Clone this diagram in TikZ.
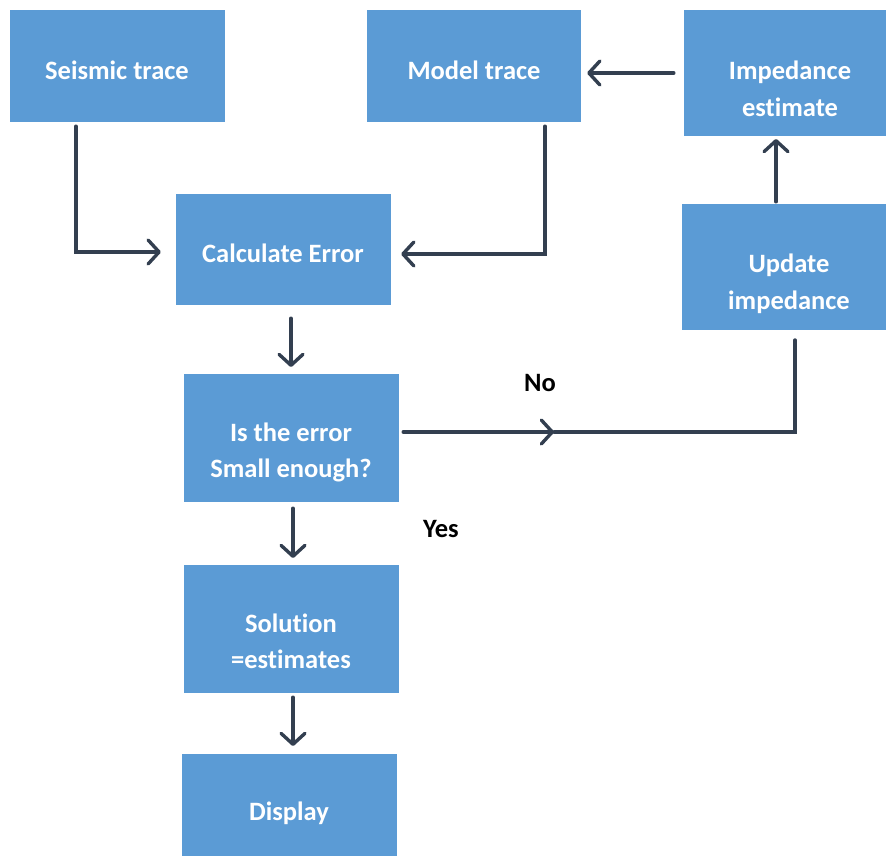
\documentclass[tikz,border=0pt]{standalone}
\usepackage{fontspec}
\setmainfont{Carlito}[Ligatures=NoCommon]
\usetikzlibrary{arrows.meta}
\definecolor{boxblue}{HTML}{5B9BD5}
\definecolor{linedark}{HTML}{333F50}
\tikzset{
  box/.style={fill=boxblue, draw=none, inner sep=0pt},
  btext/.style={text=white, font=\bfseries\fontsize{26.5}{30}\selectfont, inner sep=0pt, anchor=base},
  conn/.style={draw=linedark, line width=3.4pt, line cap=round, line join=miter, -{Straight Barb[length=11pt, width=24pt, line width=3.4pt, round]}},
  lbl/.style={font=\bfseries\fontsize{26.5}{30}\selectfont, text=black, inner sep=0pt, anchor=base}
}
\begin{document}
\begin{tikzpicture}[x=1pt,y=-1pt]
\useasboundingbox (0,0) rectangle (886,856);
\node[box, minimum width=215pt, minimum height=112pt] (seis) at (117.5,66) {};
\node[box, minimum width=214pt, minimum height=112pt] (model) at (474,66) {};
\node[box, minimum width=202pt, minimum height=126pt] (imp) at (785,73) {};
\node[box, minimum width=215pt, minimum height=111pt] (calc) at (283.5,249.5) {};
\node[box, minimum width=204pt, minimum height=126pt] (upd) at (784,267) {};
\node[box, minimum width=215pt, minimum height=128pt] (iserr) at (291.5,438) {};
\node[box, minimum width=215pt, minimum height=128pt] (sol) at (291.5,629) {};
\node[box, minimum width=215pt, minimum height=102pt] (disp) at (289.5,805) {};
% texts
\node[btext] (seis-t) at (117,79.5) {Seismic trace};
\node[btext] (model-t) at (474,79.5) {Model trace};
\node[btext] (imp-t1) at (790,80) {Impedance};
\node[btext] (imp-t2) at (790,117) {estimate};
\node[btext] (calc-t) at (283,262) {Calculate Error};
\node[btext] (upd-t1) at (789,272.5) {Update};
\node[btext] (upd-t2) at (789,309.5) {impedance};
\node[btext] (iserr-t1) at (291,441.5) {Is the error};
\node[btext] (iserr-t2) at (291,477.5) {Small enough?};
\node[btext] (sol-t1) at (291,632.5) {Solution};
\node[btext] (sol-t2) at (291,668.5) {=estimates};
\node[btext] (disp-t) at (289,820) {Display};
\node[lbl] (no) at (540,391) {No};
\node[lbl] (yes) at (441,537) {Yes};
% connectors
\coordinate (s1) at ([xshift=-41.5pt, yshift=-4pt]seis.south);
\coordinate (s2) at (s1 |- 0,252);
\coordinate (s3) at ([xshift=-15pt]calc.west |- s2);
\draw[conn] (s1) -- (s2) -- (s3);
\coordinate (m1) at ([xshift=71pt, yshift=-4pt]model.south);
\coordinate (m2) at (m1 |- 0,254);
\coordinate (m3) at ([xshift=10pt]calc.east |- m2);
\draw[conn] (m1) -- (m2) -- (m3);
\coordinate (i1) at ([xshift=-10pt]imp.west |- 0,73);
\coordinate (i2) at ([xshift=6pt]model.east |- i1);
\draw[conn] (i1) -- (i2);
\coordinate (u1) at ([xshift=-8pt, yshift=2pt]upd.north);
\coordinate (u2) at (u1 |- 0,139);
\draw[conn] (u1) -- (u2);
\coordinate (c1) at ([xshift=7.5pt, yshift=-13pt]calc.south);
\coordinate (c2) at (c1 |- 0,367);
\draw[conn] (c1) -- (c2);
\coordinate (e1) at ([xshift=4pt]iserr.east |- 0,432);
\coordinate (e2) at (554,432);
\coordinate (e3) at (795,432);
\coordinate (e4) at (795,340);
\draw[conn] (e1) -- (e2);
\draw[conn, -] (e2) -- (e3) -- (e4);
\coordinate (y1) at ([xshift=1.5pt, yshift=-6pt]iserr.south);
\coordinate (y2) at (y1 |- 0,558);
\draw[conn] (y1) -- (y2);
\coordinate (d1) at ([xshift=1.5pt, yshift=-4pt]sol.south);
\coordinate (d2) at (d1 |- 0,746);
\draw[conn] (d1) -- (d2);
\end{tikzpicture}
\end{document}
